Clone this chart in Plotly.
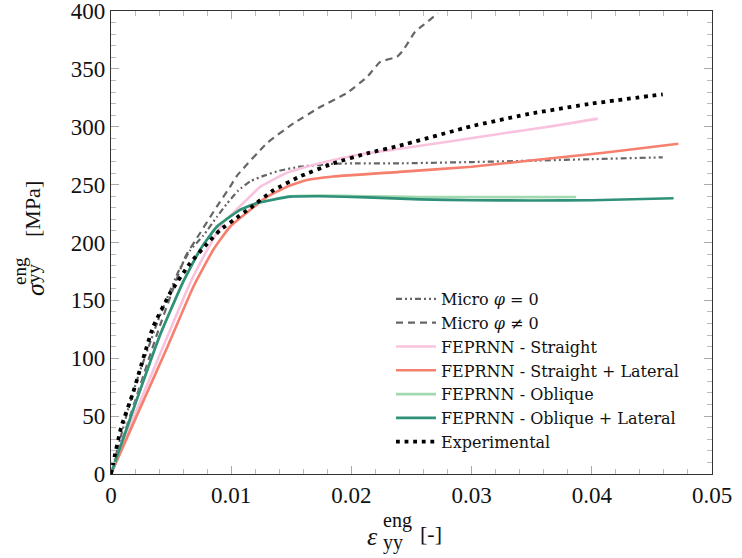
import plotly.graph_objects as go

# ---- data ----
micro0_x = [0, 0.0014, 0.00225, 0.0040, 0.0057, 0.00657, 0.00768, 0.0088, 0.0096, 0.0106, 0.0116, 0.0128, 0.0140, 0.0157, 0.0185, 0.0207, 0.0240, 0.0300, 0.0351, 0.0400, 0.0459]
micro0_y = [0, 55, 84, 135, 177, 193, 206, 222, 233, 245, 253, 258, 262, 265.5, 268, 268.4, 268.4, 269.5, 270.7, 272, 273.6]

micron_x = [0, 0.002, 0.004, 0.0062, 0.0074, 0.0088, 0.0099, 0.0105, 0.0130, 0.0152, 0.0174, 0.0196, 0.0213, 0.0224, 0.0238, 0.0243, 0.0253, 0.0260, 0.0272]
micron_y = [0, 63, 126, 188, 208, 231, 248, 258, 286, 303, 317, 329, 343, 356, 360.5, 366, 382, 388, 398]

str_x = [0, 0.0020, 0.0045, 0.00657, 0.0080, 0.0093, 0.0113, 0.0124, 0.0146, 0.0174, 0.0207, 0.0240, 0.0280, 0.0324, 0.0370, 0.0405]
str_y = [0, 52, 114, 164.7, 193.5, 216.6, 237, 248, 260, 268.4, 276, 281, 287, 294, 301, 307]

strlat_x = [0, 0.0020, 0.0047, 0.00685, 0.0085, 0.0099, 0.01157, 0.0130, 0.0146, 0.0163, 0.0185, 0.0240, 0.0300, 0.0351, 0.0410, 0.0472]
strlat_y = [0, 47, 110, 161.8, 193.5, 213.6, 228, 239.6, 248, 254, 257, 261, 265.5, 271, 277.5, 285.3]

obl_x = [0, 0.0020, 0.0040, 0.0060, 0.0074, 0.0088, 0.0107, 0.0121, 0.0149, 0.0174, 0.0213, 0.0257, 0.0300, 0.0350, 0.0387]
obl_y = [0, 60, 118, 166, 193.5, 213.6, 228, 234, 240, 240.5, 240, 239.3, 239.2, 239.2, 239.3]

obllat_x = [0, 0.0020, 0.0040, 0.0060, 0.0074, 0.0088, 0.0107, 0.0121, 0.0149, 0.0174, 0.0213, 0.0257, 0.0300, 0.0351, 0.0400, 0.0468]
obllat_y = [0, 60, 118, 166, 193.5, 213.6, 228, 234, 239.6, 240, 239, 237.3, 236.5, 236.3, 236.5, 238.2]

exp_x = [0, 0.00017, 0.00086, 0.00183, 0.0028, 0.0035, 0.0049, 0.00657, 0.0080, 0.0091, 0.0102, 0.0116, 0.0135, 0.0157, 0.0185, 0.0213, 0.0240, 0.0300, 0.0350, 0.0400, 0.0459]
exp_y = [0, 9, 41, 70, 104, 127, 156, 182, 199, 211, 219.4, 230, 245, 257, 268.4, 277, 283.6, 300.5, 311.5, 320, 328]

x_ticks = [0, 0.01, 0.02, 0.03, 0.04, 0.05]
x_labels = ["0", "0.01", "0.02", "0.03", "0.04", "0.05"]
y_ticks = [0, 50, 100, 150, 200, 250, 300, 350, 400]

series = [
    ("Micro <i>φ</i> = 0", micro0_x, micro0_y, "#666666", 2.2, "6px,3px,2px,3px,2px,3px"),
    ("Micro <i>φ</i> ≠ 0", micron_x, micron_y, "#666666", 2.2, "7px,5px"),
    ("FEPRNN - Straight", str_x, str_y, "#F9C3DF", 2.6, "solid"),
    ("FEPRNN - Straight + Lateral", strlat_x, strlat_y, "#F77F6E", 2.6, "solid"),
    ("FEPRNN - Oblique", obl_x, obl_y, "#A3D9AE", 2.6, "solid"),
    ("FEPRNN - Oblique + Lateral", obllat_x, obllat_y, "#2F9179", 2.6, "solid"),
    ("Experimental", exp_x, exp_y, "#000000", 3.8, "3.8px,4.8px"),
]

fig = go.Figure()
for i, (name, xs, ys, col, w, dash) in enumerate(series):
    fig.add_trace(go.Scatter(x=xs, y=ys, mode="lines", name=name,
                             line=dict(color=col, width=w, dash=dash, shape="spline", smoothing=0.4),
                             legendgroup=str(i)))

L, R, T, B = 111, 30, 11, 84
W, H = 742, 558
pw, ph = W - L - R, H - T - B

def px(xp):
    return (xp - L) / pw

def py(yp):
    return (H - B - yp) / ph

serif = "Liberation Serif, Times New Roman, serif"
legend_font = "DejaVu Serif, serif"
axis_common = dict(showgrid=False, zeroline=False, showline=True, linecolor="#333333", linewidth=1.2,
                   mirror="ticks", ticks="inside", ticklen=8, tickwidth=1, tickcolor="#aaaaaa",
                   automargin=False, ticklabeloverflow="allow",
                   tickfont=dict(family=serif, size=23, color="#111111"))

fig.update_xaxes(range=[0, 0.05], tickvals=x_ticks, ticktext=x_labels,
                 minor=dict(dtick=0.002, ticks="inside", ticklen=5, tickcolor="#bbbbbb", tickwidth=1),
                 **axis_common)
fig.update_yaxes(range=[0, 400], tickvals=y_ticks,
                 minor=dict(dtick=10, ticks="inside", ticklen=5, tickcolor="#bbbbbb", tickwidth=1),
                 **axis_common)

ann = []
# x label
ann.append(dict(text="<i>ε</i>", x=px(372), y=py(536), font=dict(family=serif, size=26)))
ann.append(dict(text="eng", x=px(381), y=py(520), xanchor="left", font=dict(family=serif, size=20)))
ann.append(dict(text="yy", x=px(381), y=py(542), xanchor="left", font=dict(family=serif, size=20)))
ann.append(dict(text="[-]", x=px(431), y=py(533), font=dict(family=serif, size=22)))
# y label (rotated)
ann.append(dict(text="<i>σ</i>", x=px(35), y=py(289), textangle=-90, font=dict(family=serif, size=26)))
ann.append(dict(text="eng", x=px(19), y=py(271), textangle=-90, font=dict(family=serif, size=19)))
ann.append(dict(text="yy", x=px(33), y=py(273), textangle=-90, font=dict(family=serif, size=19)))
ann.append(dict(text="[MPa]", x=px(33), y=py(209), textangle=-90, font=dict(family=serif, size=22)))
for a in ann:
    a.update(xref="paper", yref="paper", showarrow=False)
    a.setdefault("xanchor", "center")
    a["yanchor"] = "middle"
    a["font"]["color"] = "#111111"

fig.update_layout(
    width=W, height=H, margin=dict(l=L, r=R, t=T, b=B, autoexpand=False),
    plot_bgcolor="white", paper_bgcolor="white",
    annotations=ann,
    legend=dict(x=px(391), y=py(282), xanchor="left", yanchor="top",
                bgcolor="rgba(255,255,255,0)", borderwidth=0,
                font=dict(family=legend_font, size=16, color="#111111"),
                itemwidth=40, tracegroupgap=0),
)

fig.write_html("out.html", config={"displayModeBar": False},
               post_script="document.body.style.margin='0';document.body.style.overflow='hidden';")
